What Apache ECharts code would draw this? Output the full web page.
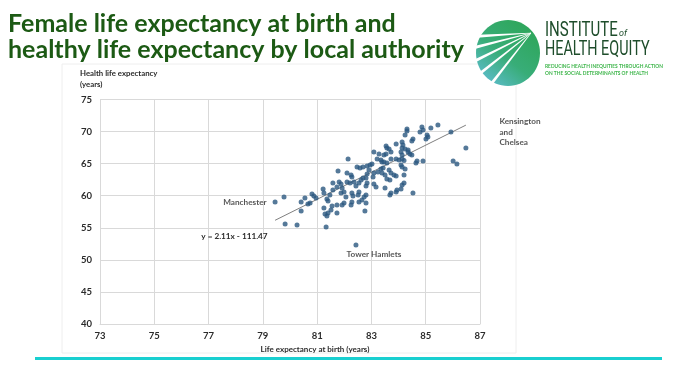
<!DOCTYPE html>
<html><head><meta charset="utf-8">
<script src="https://cdn.jsdelivr.net/npm/echarts@6/dist/echarts.min.js"></script>
<style>html,body{margin:0;padding:0;background:#fff}#c{width:676px;height:376px}</style>
</head><body><div id="c"></div>
<script>
// ---- data ----
const titleLines = ['Female life expectancy at birth and', 'healthy life expectancy by local authority'];
const xAxisTitle = 'Life expectancy at birth (years)';
const yAxisTitle = ['Health life expectancy', '(years)'];
const xTickLabels = [73, 75, 77, 79, 81, 83, 85, 87];
const yTickLabels = [40, 45, 50, 55, 60, 65, 70, 75];
const lifeExpectancy = [
  79.45, 79.78, 79.82, 80.26, 80.41, 80.41, 80.55, 80.66, 80.74, 80.81,
  80.88, 80.96, 81.22, 81.25, 81.36, 81.40, 81.25, 81.29, 81.36, 81.40,
  81.33, 81.47, 81.51, 81.58, 81.58, 81.55, 81.77, 82.10, 82.25, 82.28,
  82.47, 82.58, 82.69, 82.84, 82.95, 83.02, 82.91, 82.84, 82.80, 83.09,
  83.06, 83.24, 83.35, 83.43, 83.46, 83.57, 83.39, 83.50, 83.65, 83.72,
  83.83, 83.91, 83.57, 83.68, 84.09, 84.13, 84.20, 81.81, 81.88, 81.73,
  81.92, 82.10, 82.21, 82.36, 82.54, 82.43, 82.62, 82.69, 82.84, 82.80,
  83.09, 83.17, 81.88, 81.99, 82.06, 82.28, 82.32, 82.54, 82.51, 82.80,
  82.73, 82.65, 82.80, 82.54, 82.28, 82.25, 81.99, 81.92, 81.73, 81.73,
  82.76, 83.72, 83.68, 83.91, 83.94, 84.13, 84.20, 83.50, 82.14, 83.09,
  83.21, 83.35, 83.54, 83.57, 83.65, 83.46, 83.54, 83.91, 83.91, 84.02,
  84.13, 84.16, 84.09, 84.13, 83.72, 83.39, 83.28, 83.72, 85.45, 85.19,
  84.86, 84.90, 84.79, 85.05, 85.08, 85.01, 85.93, 86.48, 86.01, 86.15,
  84.31, 84.31, 84.24, 84.53, 84.49, 84.13, 84.24, 84.35, 84.35, 84.42,
  84.49, 84.13, 84.20, 84.68, 84.64, 84.90, 84.24, 84.09, 84.53, 82.43
];
const healthyLifeExpectancy = [
  59.02, 59.80, 55.59, 55.44, 59.02, 57.62, 59.64, 58.71, 58.86, 60.27,
  59.96, 59.64, 61.05, 60.42, 59.49, 59.18, 58.09, 57.15, 56.84, 57.31,
  55.12, 60.11, 57.77, 61.98, 60.89, 58.40, 63.85, 63.54, 63.23, 62.92,
  64.48, 64.32, 64.48, 64.63, 64.79, 64.95, 64.01, 63.39, 62.76, 63.54,
  62.92, 63.70, 64.17, 64.32, 65.26, 65.10, 63.54, 63.23, 64.01, 63.54,
  63.23, 63.07, 62.61, 62.45, 64.79, 64.48, 63.23, 62.14, 61.83, 61.36,
  61.20, 62.14, 61.98, 62.14, 61.98, 61.52, 62.45, 62.76, 61.98, 61.52,
  61.83, 61.36, 60.42, 60.58, 59.80, 60.42, 59.96, 60.58, 60.11, 60.11,
  59.80, 59.33, 58.86, 59.02, 59.02, 58.55, 58.86, 58.55, 58.55, 57.31,
  57.62, 60.42, 60.11, 60.58, 60.89, 61.67, 61.98, 61.20, 65.73, 66.82,
  65.73, 65.57, 67.75, 67.44, 67.28, 66.35, 66.50, 68.06, 65.73, 65.57,
  68.38, 67.91, 66.82, 66.35, 65.73, 65.26, 66.50, 66.82, 71.03, 70.56,
  70.71, 70.25, 69.93, 69.47, 69.16, 68.84, 69.93, 67.44, 65.41, 64.95,
  70.40, 70.09, 69.47, 68.84, 68.53, 67.44, 67.28, 67.13, 66.82, 66.50,
  66.35, 65.73, 65.50, 65.41, 65.10, 65.41, 64.17, 61.05, 60.42, 52.32
];
const labelledAreas = ['Manchester', 'Kensington and Chelsea', 'Tower Hamlets'];
const labelledIndex = [0, 127, 149];
const trendSlope = 2.11;
const trendIntercept = -111.47;
const logoName = ['INSTITUTE', 'HEALTH EQUITY'];
const logoOf = 'of';
const logoTagline = ['REDUCING HEALTH INEQUITIES THROUGH ACTION', 'ON THE SOCIAL DETERMINANTS OF HEALTH'];

// ---- build ----
const X0 = xTickLabels[0];
const textDark = '#2b2b2b';
const labelFont = {fontFamily: 'Lato', fontSize: 8.2, fontWeight: 'bold', color: textDark};
const labelPlacement = [
  {position: 'left', distance: 6, offset: [0, 0]},
  {position: 'right', distance: 6, offset: [25, -16], lineHeight: 10.5, formatter: 'Kensington\nand\nChelsea'},
  {position: 'bottom', distance: 3, offset: [18, 0]}
];
const points = lifeExpectancy.map((v, i) => {
  const item = {value: [v - X0, healthyLifeExpectancy[i]]};
  const k = labelledIndex.indexOf(i);
  if (k >= 0) {
    const p = labelPlacement[k];
    item.label = Object.assign({show: true, formatter: labelledAreas[k]}, labelFont, p);
  }
  return item;
});
const xMin = Math.min(...lifeExpectancy), xMax = Math.max(...lifeExpectancy);
const trendData = [
  {value: [xMin - X0, trendSlope * xMin + trendIntercept],
   label: Object.assign({show: true, position: 'left', distance: 5, offset: [-2, 16],
     formatter: 'y = ' + trendSlope.toFixed(2) + 'x - ' + Math.abs(trendIntercept).toFixed(2)}, labelFont)},
  {value: [xMax - X0, trendSlope * xMax + trendIntercept]}
];

const gridColor = '#d9d9d9';
const green = '#1c5a14';
// logo rays: tapered wedges from left rim of the disc towards the upper-right
const rayStarts = [[480.6, 36], [476.5, 47], [476.7, 60], [481.8, 72], [492.7, 82]];
const rayEnd = [531, 33];
const rays = rayStarts.map(([sx, sy]) => {
  const dx = rayEnd[0] - sx, dy = rayEnd[1] - sy, L = Math.hypot(dx, dy);
  const nx = -dy / L, ny = dx / L, w0 = 1.5, w1 = 0.25;
  return {type: 'polygon', shape: {points: [
    [sx + nx * w0 - dx / L * 3, sy + ny * w0 - dy / L * 3], [rayEnd[0] + nx * w1, rayEnd[1] + ny * w1],
    [rayEnd[0] - nx * w1, rayEnd[1] - ny * w1], [sx - nx * w0 - dx / L * 3, sy - ny * w0 - dy / L * 3]]},
    style: {fill: '#ffffff'}};
});
const graphic = [
  {type: 'rect', shape: {x: 62, y: 64, width: 454, height: 289}, style: {fill: 'none', stroke: '#eeeeee', lineWidth: 1}, silent: true},
  {type: 'text', x: 8, y: 24, style: {text: titleLines[0], font: 'bold 25px Lato', fill: green, align: 'left', verticalAlign: 'middle'}},
  {type: 'text', x: 8, y: 50, style: {text: titleLines[1], font: 'bold 25px Lato', fill: green, align: 'left', verticalAlign: 'middle'}},
  {type: 'text', x: 80, y: 73, style: {text: yAxisTitle[0], font: 'bold 7.8px Lato', fill: textDark, align: 'left', verticalAlign: 'middle'}},
  {type: 'text', x: 80, y: 84, style: {text: yAxisTitle[1], font: 'bold 7.8px Lato', fill: textDark, align: 'left', verticalAlign: 'middle'}},
  {type: 'rect', shape: {x: 35, y: 357, width: 627, height: 3}, style: {fill: '#19cfd0'}},
  // logo
  {type: 'ellipse', shape: {cx: 508, cy: 53, rx: 32, ry: 33},
   style: {fill: {type: 'linear', x: 0.85, y: 0.1, x2: 0.15, y2: 0.95,
     colorStops: [{offset: 0, color: '#2ea65a'}, {offset: 0.55, color: '#38ad78'}, {offset: 1, color: '#5cbccb'}]}}},
  {type: 'group', children: rays},
  {type: 'text', x: 545, y: 31, scaleX: 0.75, style: {text: logoName[0], font: '20px Roboto', fill: '#1e4d2b', align: 'left', verticalAlign: 'middle'}},
  {type: 'text', x: 619, y: 34, style: {text: logoOf, font: 'italic 9px Roboto', fill: '#1e4d2b', align: 'left', verticalAlign: 'middle'}},
  {type: 'text', x: 545, y: 50, scaleX: 0.72, style: {text: logoName[1], font: '20px Roboto', fill: '#1e4d2b', align: 'left', verticalAlign: 'middle'}},
  {type: 'text', x: 545, y: 65.5, scaleX: 0.77, style: {text: logoTagline[0], font: 'bold 6.3px Lato', fill: '#3db54a', align: 'left', verticalAlign: 'middle'}},
  {type: 'text', x: 545, y: 72.5, scaleX: 0.77, style: {text: logoTagline[1], font: 'bold 6.3px Lato', fill: '#3db54a', align: 'left', verticalAlign: 'middle'}}
];

const chart = echarts.init(document.getElementById('c'));
chart.setOption({
  animation: false,
  backgroundColor: '#fff',
  grid: {left: 100, right: 196, top: 99.5, bottom: 52, containLabel: false},
  xAxis: {
    type: 'value', min: 0, max: xTickLabels[xTickLabels.length - 1] - X0, interval: xTickLabels[1] - xTickLabels[0],
    axisLine: {show: true, lineStyle: {color: gridColor}}, axisTick: {show: false},
    splitLine: {show: true, lineStyle: {color: gridColor, width: 1}},
    axisLabel: {formatter: v => String(v + X0), color: textDark, fontSize: 9.5, fontWeight: 'bold', fontFamily: 'Lato', margin: 7},
    name: xAxisTitle, nameLocation: 'middle', nameGap: 20,
    nameTextStyle: {color: textDark, fontSize: 8, fontWeight: 'bold', fontFamily: 'Lato', padding: [0, 0, 0, 50]}
  },
  yAxis: {
    type: 'value', min: yTickLabels[0], max: yTickLabels[yTickLabels.length - 1], interval: yTickLabels[1] - yTickLabels[0],
    axisLine: {show: true, lineStyle: {color: gridColor}}, axisTick: {show: false},
    splitLine: {show: true, lineStyle: {color: gridColor, width: 1}},
    axisLabel: {color: textDark, fontSize: 9.5, fontWeight: 'bold', fontFamily: 'Lato', margin: 8}
  },
  series: [
    {type: 'line', data: trendData, symbol: 'circle', symbolSize: 1, itemStyle: {color: 'rgba(0,0,0,0)'},
     lineStyle: {color: '#7f7f7f', width: 1}, z: 2, silent: true},
    {type: 'scatter', data: points, symbolSize: 5, itemStyle: {color: '#2a5780'}, z: 3}
  ],
  graphic: graphic
});
</script></body></html>
